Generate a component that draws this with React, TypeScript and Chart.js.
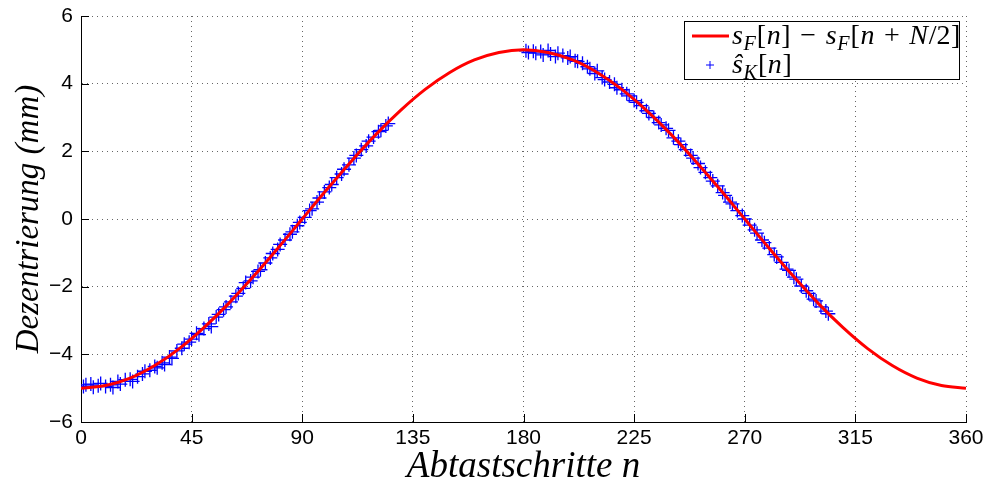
import { useEffect, useRef } from "react";
import { Chart, registerables } from "chart.js";

Chart.register(...registerables);

// ---- axis ticks ----
const xTickValues = [0, 45, 90, 135, 180, 225, 270, 315, 360];
const yTickValues = [-6, -4, -2, 0, 2, 4, 6];

// ---- red reference curve s_F[n] - s_F[n+N/2] (read every 10 steps) ----
const curveN = [0, 10, 20, 30, 40, 50, 60, 70, 80, 90, 100, 110, 120, 130, 140, 150, 160, 170, 180,
  190, 200, 210, 220, 230, 240, 250, 260, 270, 280, 290, 300, 310, 320, 330, 340, 350, 360];
const curveY = [-5.0, -4.92, -4.7, -4.33, -3.83, -3.21, -2.5, -1.71, -0.87, 0.0, 0.87, 1.71, 2.5, 3.21, 3.83, 4.33, 4.7, 4.92, 5.0,
  4.92, 4.7, 4.33, 3.83, 3.21, 2.5, 1.71, 0.87, 0.0, -0.87, -1.71, -2.5, -3.21, -3.83, -4.33, -4.7, -4.92, -5.0];

// ---- blue measured points ŝ_K[n], first segment ----
const measLeftN = [1, 2, 4, 5, 7, 8, 10, 12, 13, 15, 16, 18, 20, 21, 23, 25, 26, 28, 30, 31, 33, 34, 36, 37, 39, 41, 42, 44, 45,
  47, 48, 50, 52, 53, 55, 56, 58, 59, 61, 63, 64, 66, 67, 69, 70, 72, 73, 75, 77, 78, 80, 81, 83, 85, 86, 88, 89,
  91, 93, 94, 96, 97, 99, 101, 102, 104, 106, 107, 109, 111, 112, 114, 116, 117, 119, 121, 122, 124, 125];
const measLeftY = [-4.95, -4.9, -4.88, -4.97, -4.93, -4.86, -4.95, -4.9, -4.98, -4.8, -4.88, -4.75, -4.74, -4.8, -4.66, -4.58,
  -4.5, -4.47, -4.36, -4.4, -4.25, -4.3, -4.08, -4.12, -3.9, -3.82, -3.7, -3.64, -3.55,
  -3.38, -3.42, -3.24, -3.1, -3.18, -2.9, -2.82, -2.68, -2.6, -2.45, -2.28, -2.2, -2.05, -1.88, -1.83, -1.72, -1.55, -1.5,
  -1.3, -1.15, -1.02, -0.9, -0.75, -0.62, -0.45, -0.38, -0.2, -0.1,
  0.05, 0.25, 0.3, 0.5, 0.62, 0.8, 0.93, 1.02, 1.22, 1.33, 1.47, 1.6, 1.8, 1.88, 2.05, 2.16, 2.3, 2.42, 2.58, 2.62, 2.75, 2.82];

// ---- blue measured points ŝ_K[n], second segment ----
const measRightN = [181, 182, 184, 185, 187, 188, 190, 191, 193, 194, 196, 198, 199, 201, 202, 204, 206, 207, 209, 210,
  212, 213, 215, 217, 218, 220, 222, 223, 225, 226, 228, 230, 231, 233, 235, 236, 238, 239, 241, 243, 244, 246, 248, 249,
  251, 252, 254, 256, 257, 259, 261, 262, 264, 265, 267, 269, 270, 272, 274, 275, 277, 278, 280, 282, 283, 285, 287, 288,
  290, 291, 293, 295, 296, 298, 299, 301, 303, 304];
const measRightY = [4.97, 4.92, 4.96, 4.9, 4.95, 4.85, 4.98, 4.88, 4.8, 4.9, 4.83, 4.76, 4.8, 4.68, 4.66, 4.6, 4.5, 4.44, 4.3, 4.38,
  4.18, 4.12, 4.05, 3.98, 3.88, 3.82, 3.7, 3.64, 3.5, 3.45, 3.35, 3.2, 3.12, 3.0, 2.85, 2.78, 2.68, 2.62, 2.4, 2.3, 2.2, 2.05, 1.88, 1.8,
  1.64, 1.52, 1.38, 1.22, 1.12, 0.98, 0.78, 0.7, 0.5, 0.45, 0.25, 0.1, 0.0, -0.18, -0.32, -0.42, -0.62, -0.7, -0.86, -1.05, -1.12, -1.28, -1.48, -1.52,
  -1.72, -1.78, -1.98, -2.12, -2.2, -2.37, -2.42, -2.6, -2.72, -2.8];

const SERIF = '"Liberation Serif", "Times New Roman", serif';
const SANS = '"Liberation Sans", Arial, sans-serif';

type Seg = [string, boolean, boolean, number?];

function drawMath(ctx: CanvasRenderingContext2D, x: number, y: number, segs: Seg[], size: number) {
  for (const [t, it, sub, gap] of segs) {
    const s = sub ? size * 0.72 : size;
    ctx.font = `${it ? "italic " : ""}${s}px ${SERIF}`;
    const g = gap || 0;
    ctx.fillText(t, x + g, sub ? y + size * 0.2 : y);
    x += ctx.measureText(t).width + (sub ? 1 : 0.6) + 2 * g;
  }
}

const legendPlugin = {
  id: "mathLegend",
  afterDraw(chart: any) {
    const { ctx, chartArea } = chart;
    const bx = chartArea.right - 282;
    const by = chartArea.top + 5;
    const bw = 275;
    const bh = 58;
    ctx.save();
    ctx.fillStyle = "#fff";
    ctx.fillRect(bx, by, bw, bh);
    ctx.strokeStyle = "#000";
    ctx.lineWidth = 1;
    ctx.strokeRect(bx + 0.5, by + 0.5, bw, bh);
    // red line sample
    ctx.strokeStyle = "#ff0000";
    ctx.lineWidth = 3;
    ctx.beginPath();
    ctx.moveTo(bx + 8, by + 15);
    ctx.lineTo(bx + 45, by + 15);
    ctx.stroke();
    // blue cross sample
    ctx.strokeStyle = "#0000ff";
    ctx.lineWidth = 1;
    const cx = bx + 26, cy = by + 44;
    ctx.beginPath();
    ctx.moveTo(cx - 4, cy); ctx.lineTo(cx + 4, cy);
    ctx.moveTo(cx, cy - 4); ctx.lineTo(cx, cy + 4);
    ctx.stroke();
    ctx.fillStyle = "#000";
    ctx.textBaseline = "alphabetic";
    ctx.textAlign = "left";
    drawMath(ctx, bx + 48, by + 23, [
      ["s", true, false], ["F", true, true], ["[", false, false], ["n", true, false], ["]", false, false],
      [" \u2212 ", false, false, 2],
      ["s", true, false], ["F", true, true], ["[", false, false], ["n", true, false], [" + ", false, false, 2],
      ["N", true, false], ["/2", false, false], ["]", false, false],
    ], 28);
    drawMath(ctx, bx + 48, by + 52, [
      ["\u015D", true, false], ["K", true, true], ["[", false, false], ["n", true, false], ["]", false, false],
    ], 28);
    ctx.restore();
  },
};

const innerTicksPlugin = {
  id: "innerTicks",
  afterDatasetsDraw(chart: any) {
    const { ctx, chartArea, scales } = chart;
    ctx.save();
    ctx.strokeStyle = "#000";
    ctx.lineWidth = 1;
    ctx.beginPath();
    for (const v of yTickValues) {
      const y = Math.round(scales.y.getPixelForValue(v)) + 0.5;
      ctx.moveTo(chartArea.left, y);
      ctx.lineTo(chartArea.left + 8, y);
    }
    for (const v of xTickValues) {
      const x = Math.round(scales.x.getPixelForValue(v)) + 0.5;
      ctx.moveTo(x, chartArea.bottom);
      ctx.lineTo(x, chartArea.bottom - 8);
    }
    ctx.stroke();
    ctx.restore();
  },
};

export default function App() {
  const ref = useRef<HTMLCanvasElement>(null);
  useEffect(() => {
    const curve = curveN.map((n, i) => ({ x: n, y: curveY[i] }));
    const meas = [
      ...measLeftN.map((n, i) => ({ x: n, y: measLeftY[i] })),
      ...measRightN.map((n, i) => ({ x: n, y: measRightY[i] })),
    ];
    const fmt = (v: any) => (Number(v) < 0 ? "\u2212" + Math.abs(Number(v)) : String(v));
    const chart = new Chart(ref.current!, {
      type: "scatter",
      data: {
        datasets: [
          {
            type: "line",
            label: "s_F[n] - s_F[n+N/2]",
            data: curve,
            borderColor: "#ff0000",
            borderWidth: 3,
            pointRadius: 0,
            cubicInterpolationMode: "monotone",
            fill: false,
            order: 0,
          } as any,
          {
            label: "ŝ_K[n]",
            data: meas,
            pointStyle: "cross",
            pointRadius: 7,
            borderWidth: 1.3,
            borderColor: "#0000ff",
            backgroundColor: "#0000ff",
            order: 1,
          },
        ],
      },
      options: {
        animation: false,
        responsive: false,
        devicePixelRatio: 1,
        layout: { padding: { top: 16, right: 24, left: 0, bottom: 0 } },
        plugins: { legend: { display: false }, tooltip: { enabled: false } },
        scales: {
          x: {
            type: "linear",
            min: 0,
            max: 360,
            afterBuildTicks: (s: any) => { s.ticks = xTickValues.map((v) => ({ value: v })); },
            afterFit: (s: any) => { s.height = 70; },
            ticks: { font: { family: SANS, size: 21 }, color: "#000", padding: 4, maxRotation: 0, callback: fmt },
            grid: { color: "#666", lineWidth: 1, drawTicks: false },
            border: { display: true, color: "#000", width: 1, dash: [1, 4] },
            title: {
              display: true,
              text: "Abtastschritte n",
              font: { family: SERIF, size: 37, style: "italic" },
              color: "#000",
              padding: { top: 0, bottom: 3 },
            },
          },
          y: {
            type: "linear",
            min: -6,
            max: 6,
            afterBuildTicks: (s: any) => { s.ticks = yTickValues.map((v) => ({ value: v })); },
            afterFit: (s: any) => { s.width = 81; s.paddingTop = 0; s.paddingBottom = 0; },
            ticks: { font: { family: SANS, size: 21 }, color: "#000", padding: 8, callback: fmt },
            grid: { color: "#666", lineWidth: 1, drawTicks: false },
            border: { display: true, color: "#000", width: 1, dash: [1, 4] },
            title: {
              display: true,
              text: "Dezentrierung (mm)",
              font: { family: SERIF, size: 33, style: "italic" },
              color: "#000",
              padding: { top: 10, bottom: 0 },
            },
          },
        },
      },
      plugins: [innerTicksPlugin, legendPlugin],
    });
    return () => chart.destroy();
  }, []);
  return (
    <div style={{ position: "fixed", left: 0, top: 0, width: 990, height: 492, background: "#fff" }}>
      <canvas ref={ref} width={990} height={492} style={{ display: "block" }} />
    </div>
  );
}
